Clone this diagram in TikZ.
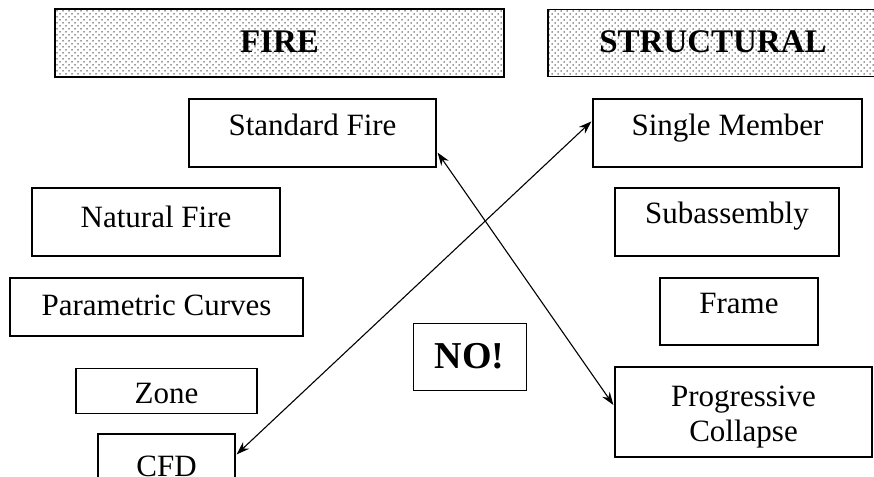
\documentclass[tikz,border=0pt]{standalone}
\usepackage{fontspec}
\setmainfont{Liberation Serif}
\usetikzlibrary{arrows.meta,patterns,calc}
\pgfdeclarepatternformonly{mydots}{\pgfqpoint{-1pt}{-1pt}}{\pgfqpoint{7pt}{7pt}}{\pgfqpoint{6pt}{6pt}}{%
  \pgfpathcircle{\pgfqpoint{0pt}{0pt}}{0.75pt}%
  \pgfpathcircle{\pgfqpoint{3pt}{3pt}}{0.75pt}%
  \pgfusepath{fill}}
\tikzset{
  boxnode/.style={draw, line width=1.2pt, inner sep=0pt, align=center,
    font=\fontsize{31}{35}\selectfont},
  hdrnode/.style={draw, line width=1.4pt, inner sep=0pt, pattern=mydots, pattern color=black!80},
  hdrtext/.style={inner sep=0pt, text height=24pt, text depth=4pt, font=\fontsize{33}{38}\selectfont\bfseries},
  link/.style={line width=1.1pt, {Stealth[length=13pt,width=9pt]}-{Stealth[length=13pt,width=9pt]}}
}
\begin{document}
\begin{tikzpicture}[x=1pt,y=-1pt]
\useasboundingbox (0,0) rectangle (874,476);
% headers
\node[hdrnode, minimum width=449pt, minimum height=68pt] (firehdr) at (279.5,43) {};
\node[hdrtext] (firetxt) at (firehdr.center) {FIRE};
\node[hdrnode, minimum width=330pt, minimum height=67pt] (structhdr) at (713,43) {};
\node[hdrtext] (structtxt) at (structhdr.center) {STRUCTURAL};
% fire column
\node[boxnode, text height=16pt, text depth=12pt, minimum width=247pt, minimum height=68pt] (stdfire) at (312.5,133) {Standard Fire};
\node[boxnode, text height=19pt, text depth=9pt, minimum width=248pt, minimum height=68pt] (natfire) at (156,222) {Natural Fire};
\node[boxnode, text height=22pt, text depth=6pt, minimum width=293pt, minimum height=58pt] (param) at (156.5,307) {Parametric Curves};
\node[boxnode, text height=26pt, text depth=2pt, minimum width=181pt, minimum height=45pt] (zone) at (166.5,391) {Zone};
\node[boxnode, text height=23pt, text depth=5pt, minimum width=137pt, minimum height=66pt] (cfd) at (166.5,467) {CFD};
% middle
\node[boxnode, text height=26pt, text depth=2pt, line width=0.8pt, minimum width=113pt, minimum height=67pt, font=\fontsize{38}{42}\selectfont\bfseries] (nobox) at (469.5,356.5) {NO!};
% structural column
\node[boxnode, text height=16pt, text depth=12pt, minimum width=269pt, minimum height=68pt] (single) at (727.5,133) {Single Member};
\node[boxnode, text height=15pt, text depth=13pt, minimum width=224pt, minimum height=68pt] (subasm) at (727,222) {Subassembly};
\node[boxnode, text height=16pt, text depth=12pt, minimum width=158pt, minimum height=67pt] (frame) at (739,311.5) {Frame};
\node[boxnode, minimum width=257pt, minimum height=90pt] (prog) at (743.5,412) {\rule{0pt}{30pt}Progressive\\Collapse};
% connector ends
\coordinate (a1) at ($(stdfire.south east)+(1,-15)$);
\coordinate (b1) at ($(prog.west)+(-1,-7)$);
\coordinate (a2) at ($(cfd.north east)+(1,21)$);
\coordinate (b2) at ($(single.north west)+(-1,23)$);
\draw[link] (a1) -- (b1);
\draw[link] (a2) -- (b2);
\end{tikzpicture}
\end{document}
